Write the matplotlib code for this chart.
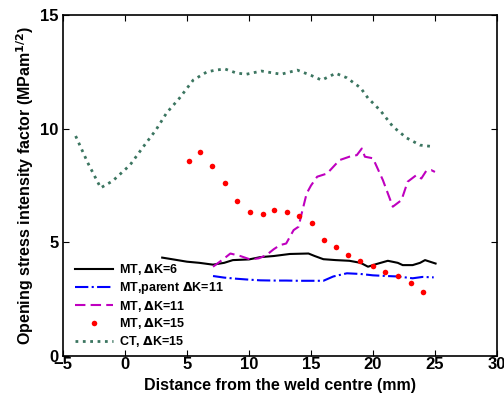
import numpy as np
import matplotlib
matplotlib.use("Agg")
import matplotlib.pyplot as plt

matplotlib.rcParams["font.family"] = ["Liberation Sans", "DejaVu Sans"]
matplotlib.rcParams["font.weight"] = "bold"
matplotlib.rcParams["mathtext.default"] = "bf"

# MT, dK=6 (solid black)
x_mt6 = [3.0, 3.9, 5.0, 6.0, 7.1, 8.0, 8.7, 10.0, 10.9, 12.0, 13.3, 14.8, 15.3,
         16.0, 17.0, 18.1, 19.0, 19.6, 20.3, 21.2, 22.0, 22.4, 23.2, 23.8, 24.2, 25.05]
y_mt6 = [4.33, 4.25, 4.15, 4.1, 4.02, 4.1, 4.22, 4.25, 4.35, 4.4, 4.49, 4.51, 4.4,
         4.26, 4.22, 4.19, 4.1, 3.93, 4.05, 4.19, 4.1, 4.0, 4.0, 4.1, 4.22, 4.07]

# MT, parent dK=11 (blue dash-dot)
x_par = [7.1, 8.0, 9.0, 10.0, 10.9, 12.0, 13.0, 14.0, 15.0, 16.0, 16.8, 17.9,
         19.0, 20.0, 21.1, 22.0, 23.2, 24.0, 24.9]
y_par = [3.52, 3.45, 3.4, 3.36, 3.33, 3.32, 3.32, 3.31, 3.31, 3.31, 3.5, 3.64,
         3.61, 3.55, 3.52, 3.5, 3.42, 3.48, 3.46]

# MT, dK=11 (magenta dashed)
x_m11 = [7.1, 7.9, 8.5, 9.3, 10.1, 10.8, 11.4, 12.0, 12.5, 13.0, 13.6, 14.0,
         14.25, 14.65, 15.0, 15.5, 16.3, 17.3, 18.1, 18.7, 19.1, 19.35, 20.0,
         20.8, 21.6, 22.3, 22.8, 23.5, 23.9, 24.3, 24.7, 25.0]
y_m11 = [3.93, 4.25, 4.51, 4.4, 4.25, 4.3, 4.44, 4.7, 4.88, 4.95, 5.54, 5.69,
         6.27, 7.15, 7.5, 7.89, 8.03, 8.62, 8.77, 8.84, 9.13, 8.77, 8.7,
         7.74, 6.57, 6.86, 7.67, 7.96, 7.81, 8.15, 8.18, 8.1]

# MT, dK=15 (red dots)
x_m15 = [5.16, 6.05, 7.0, 8.06, 9.03, 10.08, 11.1, 12.0, 13.1, 14.0, 15.08,
         16.05, 17.0, 17.98, 18.95, 20.0, 21.0, 22.0, 23.06, 24.0]
y_m15 = [8.58, 8.96, 8.36, 7.6, 6.82, 6.32, 6.27, 6.42, 6.32, 6.16, 5.84,
         5.1, 4.8, 4.43, 4.18, 3.97, 3.70, 3.53, 3.21, 2.82]

# CT, dK=15 (green dotted)
x_ct = [-3.98, -3.0, -1.96, -1.0, 0.4, 1.48, 2.5, 3.36, 4.4, 5.5, 6.6, 7.3,
        8.06, 9.0, 9.8, 11.0, 12.0, 12.6, 13.9, 15.0, 15.86, 17.0, 17.9,
        19.0, 19.6, 20.6, 21.6, 22.7, 23.8, 24.9]
y_ct = [9.68, 8.5, 7.4, 7.7, 8.4, 9.21, 9.95, 10.7, 11.35, 12.14, 12.5, 12.58,
        12.63, 12.45, 12.4, 12.54, 12.45, 12.4, 12.58, 12.35, 12.14, 12.44, 12.24,
        11.8, 11.35, 10.8, 10.1, 9.6, 9.28, 9.21]

fig = plt.figure(figsize=(5.04, 3.98), dpi=100)
ax = fig.add_axes([0.125, 0.1055, 0.861, 0.8565])

ax.plot(x_mt6, y_mt6, "-", color="k", lw=1.5, label=r"MT, $\Delta$K=6")
ax.plot(x_par, y_par, "-.", color="#0000ff", lw=1.5, label=r"MT,parent $\Delta$K=11")
ax.plot(x_m11, y_m11, "--", color="#bf00bf", lw=1.5, dashes=(5, 2.5),
        label=r"MT, $\Delta$K=11")
ax.plot(x_m15, y_m15, "o", color="#ff0000", ms=4, mec="none", label=r"MT, $\Delta$K=15")
ax.plot(x_ct, y_ct, ":", color="#3b7560", lw=2, label=r"CT, $\Delta$K=15")

ax.set_xlim(-5, 30)
ax.set_ylim(0, 15)
ax.set_xticks(np.arange(-5, 31, 5))
ax.set_yticks([0, 5, 10, 15])
ax.tick_params(direction="in", top=True, right=True, labelsize=12, length=4, pad=1)
ax.tick_params(axis="y", pad=3)
for lab in ax.get_xticklabels() + ax.get_yticklabels():
    lab.set_fontweight("bold")
for s in ax.spines.values():
    s.set_linewidth(1.2)

ax.set_xlabel("Distance from the weld centre (mm)", fontsize=11.5, fontweight="bold", labelpad=4)
ax.set_ylabel("Opening stress intensity factor (MPam$^{1/2}$)", fontsize=11.5,
              fontweight="bold", labelpad=3)

ax.legend(loc="lower left", bbox_to_anchor=(0.012, 0.0), frameon=False,
          handlelength=3.0, labelspacing=0.22, borderaxespad=0.15, handletextpad=0.55,
          prop={"weight": "bold", "size": 9})

fig.savefig("out.png", dpi=100)
